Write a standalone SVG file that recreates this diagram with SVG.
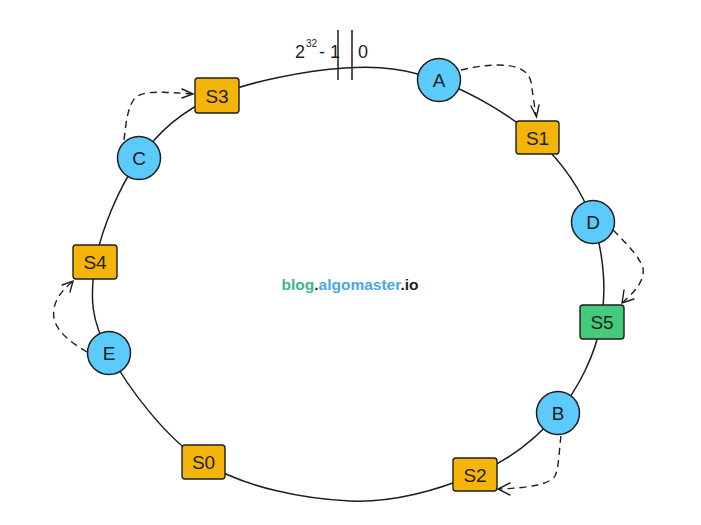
<svg xmlns="http://www.w3.org/2000/svg" width="701" height="525" viewBox="0 0 701 525">
<defs>
<style>
.ring{fill:none;stroke:#1e1e1e;stroke-width:1.5}
.dash{fill:none;stroke:#1e1e1e;stroke-width:1.4;stroke-dasharray:7 5}
.head{fill:none;stroke:#1e1e1e;stroke-width:1.4;stroke-linecap:round}
.mark{stroke:#1e1e1e;stroke-width:1.5}
.vnode{fill:#5ccafc;stroke:#1e1e1e;stroke-width:1.5}
.snode{fill:#f5b409;stroke:#1e1e1e;stroke-width:1.4}
.gnode{fill:#45c97a;stroke:#1e1e1e;stroke-width:1.4}
.lbl{font-family:"Liberation Sans",Arial,sans-serif;font-size:19px;fill:#1e1e1e;text-anchor:middle}
.top{font-family:"Liberation Sans",Arial,sans-serif;font-size:18px;fill:#1e1e1e}
.sup{font-family:"Liberation Sans",Arial,sans-serif;font-size:10px;fill:#1e1e1e}
.wm{font-family:"Liberation Sans",Arial,sans-serif;font-size:15.5px;font-weight:bold;text-anchor:middle}
</style>
</defs>
<rect width="701" height="525" fill="#ffffff"/>
<g id="connectors">
<path class="ring" d="M345,68 C382.3,65.5 408,69.2 440,81 C472,92.8 511.5,115.5 537,139 C562.5,162.5 582.3,191.3 593,222 C603.7,252.7 606.8,291.2 601,323 C595.2,354.8 578.8,387.8 558,413 C537.2,438.2 510.7,459.3 476,474 C441.3,488.7 395.2,502.8 350,501 C304.8,499.2 245.2,487.7 205,463 C164.8,438.3 127.3,386 109,353 C90.7,320 90,297.3 95,265 C100,232.3 118.8,187.2 139,159 C159.2,130.8 181.7,111.2 216,96 C250.3,80.8 307.7,70.5 345,68 Z"/>
<line class="mark" x1="338" y1="30" x2="338" y2="80"/>
<line class="mark" x1="352" y1="30" x2="352" y2="80"/>
<path class="dash" d="M461,70 C495,62 527,62 531,82 L536,116"/>
<path class="head" d="M531,106 L536.5,117 L539,105"/>
<path class="dash" d="M124,140 C126,122 128,106 135,98 C143,90 165,92 192,94"/>
<path class="head" d="M182,89 L193,94 L182,98"/>
<path class="dash" d="M613,230 C628,245 640,258 643,268 C645,280 635,292 623,302"/>
<path class="head" d="M624,290 L622,303 L634,299"/>
<path class="dash" d="M87,352 C75,345 60,335 55,322 C51,310 55,296 72,282"/>
<path class="head" d="M62,285 L73,281 L70,292"/>
<path class="dash" d="M561,436 C559,450 559,468 555,476 C550,484 530,488 499,489"/>
<path class="head" d="M510,483 L498,489 L510,495"/>
</g>
<g id="label-top">
<text class="top" x="295" y="58">2</text>
<text class="sup" x="306" y="47">32</text>
<text class="top" x="319" y="58">- 1</text>
<text class="top" x="358" y="58">0</text>
</g>
<g id="node-A"><circle class="vnode" cx="439" cy="80" r="21.5"/><text class="lbl" x="439" y="87">A</text></g>
<g id="node-S1"><rect class="snode" x="516" y="121" width="43" height="33" rx="3"/><text class="lbl" x="537.5" y="144.5">S1</text></g>
<g id="node-D"><circle class="vnode" cx="593" cy="222" r="21.5"/><text class="lbl" x="593" y="229">D</text></g>
<g id="node-S5"><rect class="gnode" x="580" y="305" width="44" height="34" rx="3"/><text class="lbl" x="602" y="329">S5</text></g>
<g id="node-B"><circle class="vnode" cx="558" cy="413" r="21.5"/><text class="lbl" x="558" y="420">B</text></g>
<g id="node-S2"><rect class="snode" x="453" y="458" width="44" height="33" rx="3"/><text class="lbl" x="475" y="481.5">S2</text></g>
<g id="node-S0"><rect class="snode" x="182" y="445" width="43" height="34" rx="3"/><text class="lbl" x="203.5" y="469">S0</text></g>
<g id="node-E"><circle class="vnode" cx="109" cy="353" r="21.5"/><text class="lbl" x="109" y="360">E</text></g>
<g id="node-S4"><rect class="snode" x="73" y="245" width="44" height="34" rx="3"/><text class="lbl" x="95" y="269">S4</text></g>
<g id="node-C"><circle class="vnode" cx="139" cy="158" r="21.5"/><text class="lbl" x="139" y="165">C</text></g>
<g id="node-S3"><rect class="snode" x="195" y="78" width="44" height="35" rx="3"/><text class="lbl" x="217" y="102.5">S3</text></g>
<g id="watermark">
<text class="wm" x="350" y="290"><tspan fill="#3cb88a">blog</tspan><tspan fill="#1e1e1e">.</tspan><tspan fill="#4aa8e0">algomaster</tspan><tspan fill="#1e1e1e">.io</tspan></text>
</g>
</svg>
